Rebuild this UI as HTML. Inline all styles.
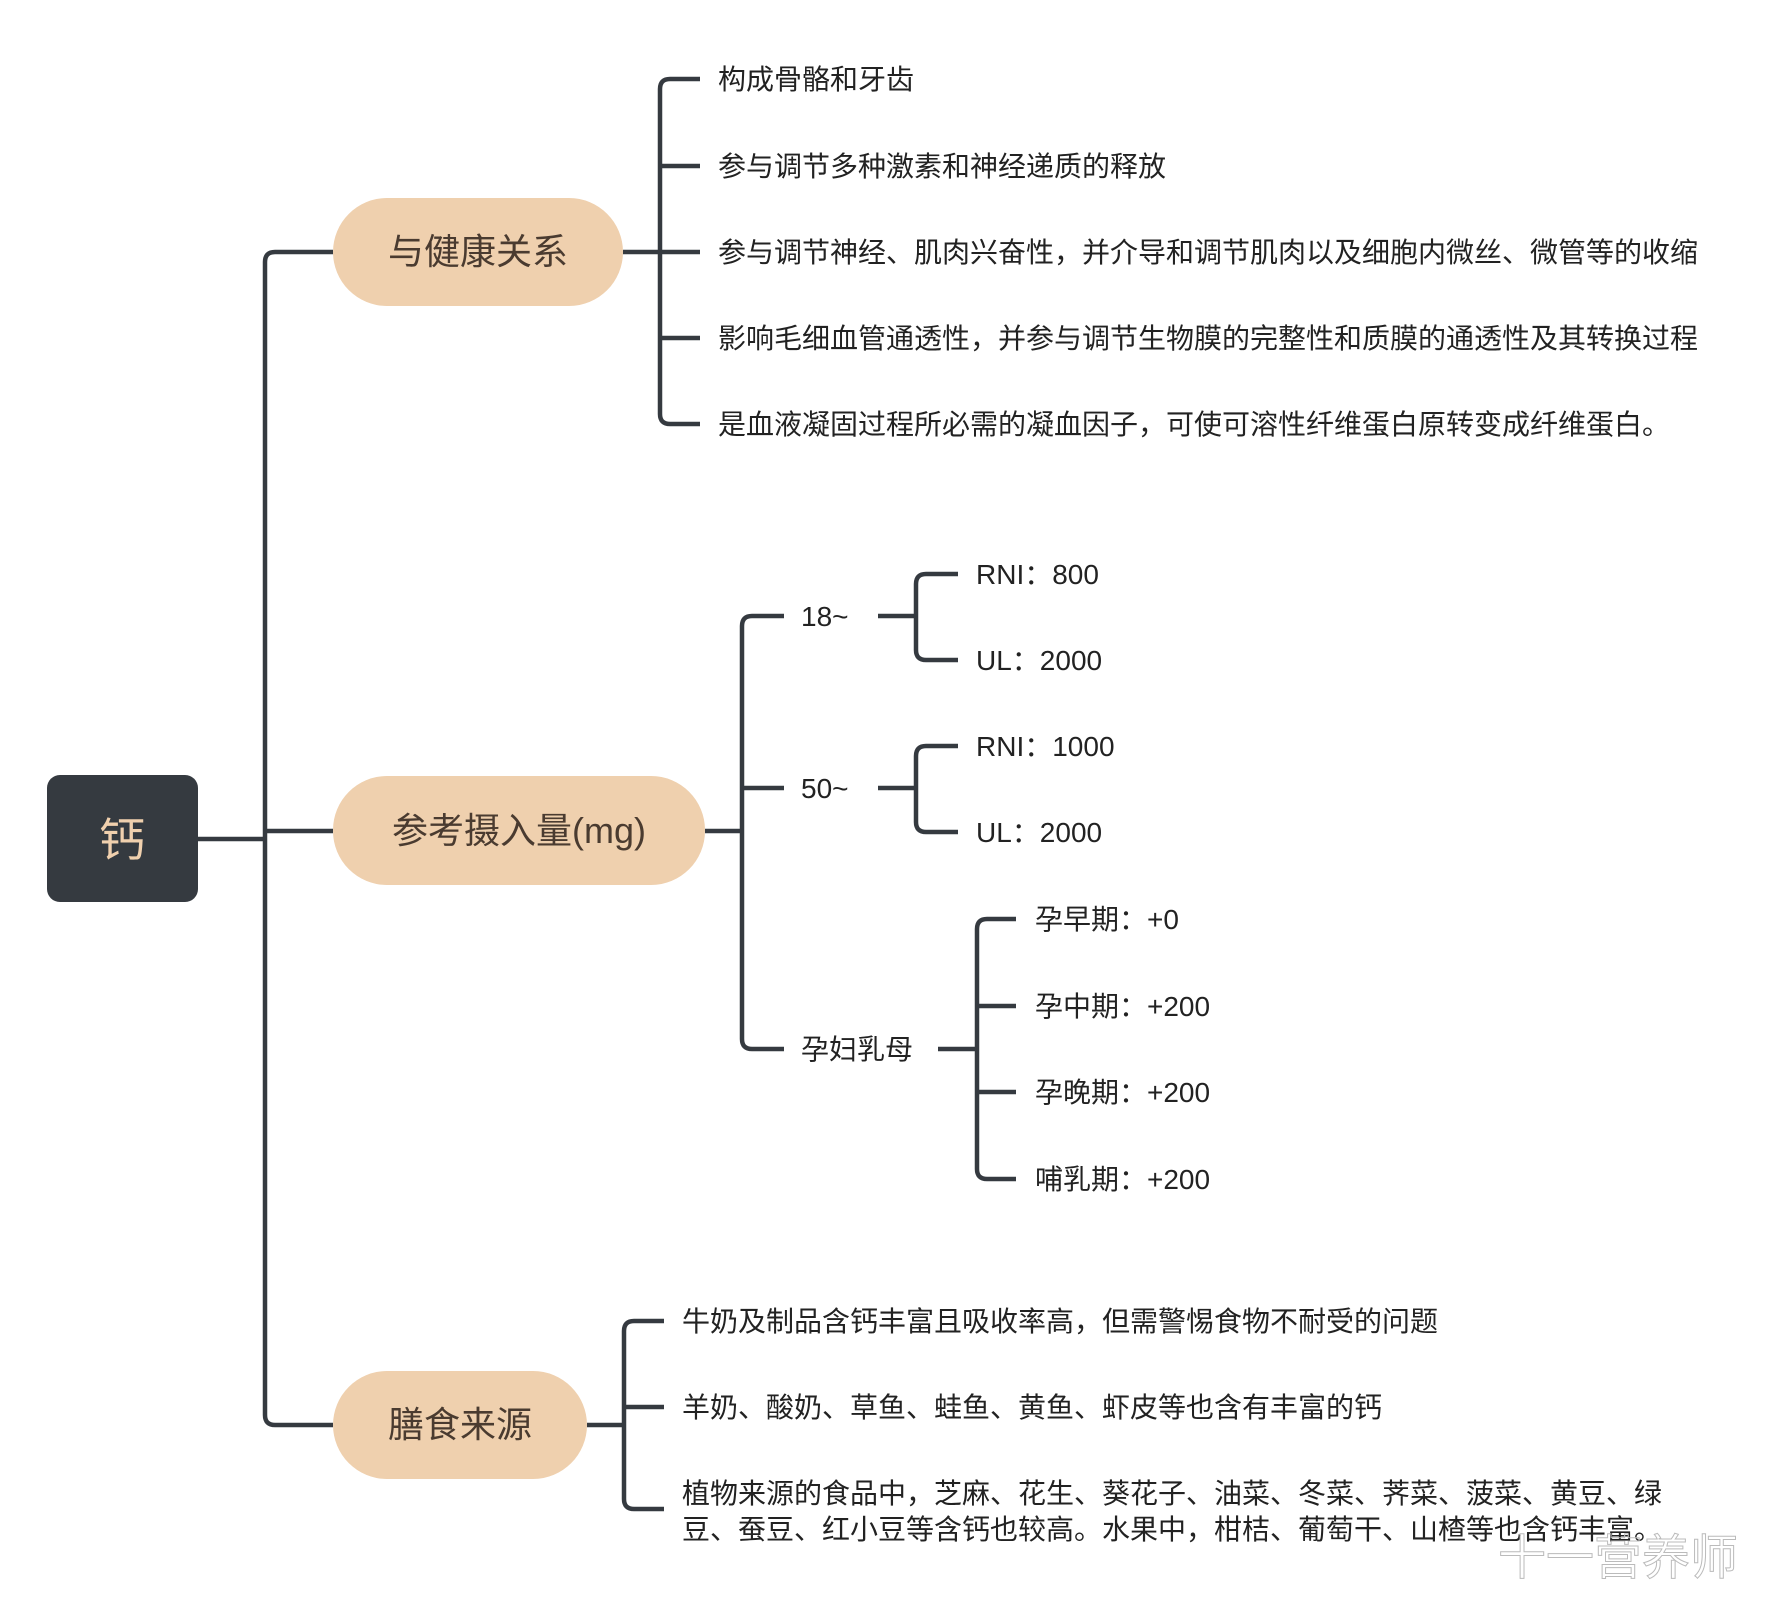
<!DOCTYPE html>
<html><head><meta charset="utf-8"><style>
html,body{margin:0;padding:0;background:#fff;}
svg{display:block;}
text{font-family:"Liberation Sans","Noto Sans CJK SC",sans-serif;fill:#222;}
</style></head><body>
<svg width="1768" height="1612" viewBox="0 0 1768 1612" xmlns="http://www.w3.org/2000/svg">
<g transform="translate(0,-4)">
<g fill="none" stroke="#353a40" stroke-width="4.5" stroke-linecap="butt">
<path d="M198 843 H265"/>
<path d="M333 256 H275 Q265 256 265 266 V1419 Q265 1429 275 1429 H333"/>
<path d="M265 835 H333"/>
<path d="M623 256 H700"/>
<path d="M700 83 H670 Q660 83 660 93 V418 Q660 428 670 428 H700"/>
<path d="M660 170 H700 M660 342 H700"/>
<path d="M705 835 H742"/>
<path d="M784 620 H752 Q742 620 742 630 V1043 Q742 1053 752 1053 H784"/>
<path d="M742 792 H784"/>
<path d="M878 620 H916"/>
<path d="M958 578 H926 Q916 578 916 588 V654 Q916 664 926 664 H958"/>
<path d="M878 792 H916"/>
<path d="M958 750 H926 Q916 750 916 760 V826 Q916 836 926 836 H958"/>
<path d="M938 1053 H977"/>
<path d="M1016 923 H987 Q977 923 977 933 V1173 Q977 1183 987 1183 H1016"/>
<path d="M977 1010 H1016 M977 1096 H1016"/>
<path d="M587 1429 H624"/>
<path d="M664 1325 H634 Q624 1325 624 1335 V1503 Q624 1513 634 1513 H664"/>
<path d="M624 1411 H664"/>
</g>
<rect x="47" y="779" width="151" height="127" rx="13" fill="#353a40"/>
<text x="122" y="860" font-size="46" text-anchor="middle" style="fill:#f0d0ae">钙</text>
<rect x="333" y="202" width="290" height="108" rx="54" fill="#efd0ae"/>
<text x="478" y="268" font-size="36" text-anchor="middle" style="fill:#4a3b30">与健康关系</text>
<rect x="333" y="780" width="372" height="109" rx="54" fill="#efd0ae"/>
<text x="519" y="847" font-size="36" text-anchor="middle" style="fill:#4a3b30">参考摄入量(mg)</text>
<rect x="333" y="1375" width="254" height="108" rx="54" fill="#efd0ae"/>
<text x="460" y="1441" font-size="36" text-anchor="middle" style="fill:#4a3b30">膳食来源</text>
<g font-size="28">
<text x="718" y="93">构成骨骼和牙齿</text>
<text x="718" y="180">参与调节多种激素和神经递质的释放</text>
<text x="718" y="266">参与调节神经、肌肉兴奋性，并介导和调节肌肉以及细胞内微丝、微管等的收缩</text>
<text x="718" y="352">影响毛细血管通透性，并参与调节生物膜的完整性和质膜的通透性及其转换过程</text>
<text x="718" y="438">是血液凝固过程所必需的凝血因子，可使可溶性纤维蛋白原转变成纤维蛋白。</text>
<text x="801" y="630">18~</text>
<text x="801" y="802">50~</text>
<text x="801" y="1063">孕妇乳母</text>
<text x="976" y="588">RNI：800</text>
<text x="976" y="674">UL：2000</text>
<text x="976" y="760">RNI：1000</text>
<text x="976" y="846">UL：2000</text>
<text x="1035" y="933">孕早期：+0</text>
<text x="1035" y="1020">孕中期：+200</text>
<text x="1035" y="1106">孕晚期：+200</text>
<text x="1035" y="1193">哺乳期：+200</text>
<text x="682" y="1335">牛奶及制品含钙丰富且吸收率高，但需警惕食物不耐受的问题</text>
<text x="682" y="1421">羊奶、酸奶、草鱼、蛙鱼、黄鱼、虾皮等也含有丰富的钙</text>
<text x="682" y="1507">植物来源的食品中，芝麻、花生、葵花子、油菜、冬菜、荠菜、菠菜、黄豆、绿</text>
<text x="682" y="1543">豆、蚕豆、红小豆等含钙也较高。水果中，柑桔、葡萄干、山楂等也含钙丰富。</text>
</g>
<text x="1498" y="1578" font-size="48" style="fill:none;stroke:#bbb;stroke-width:1">十一营养师</text>
</g>
</svg>
</body></html>
